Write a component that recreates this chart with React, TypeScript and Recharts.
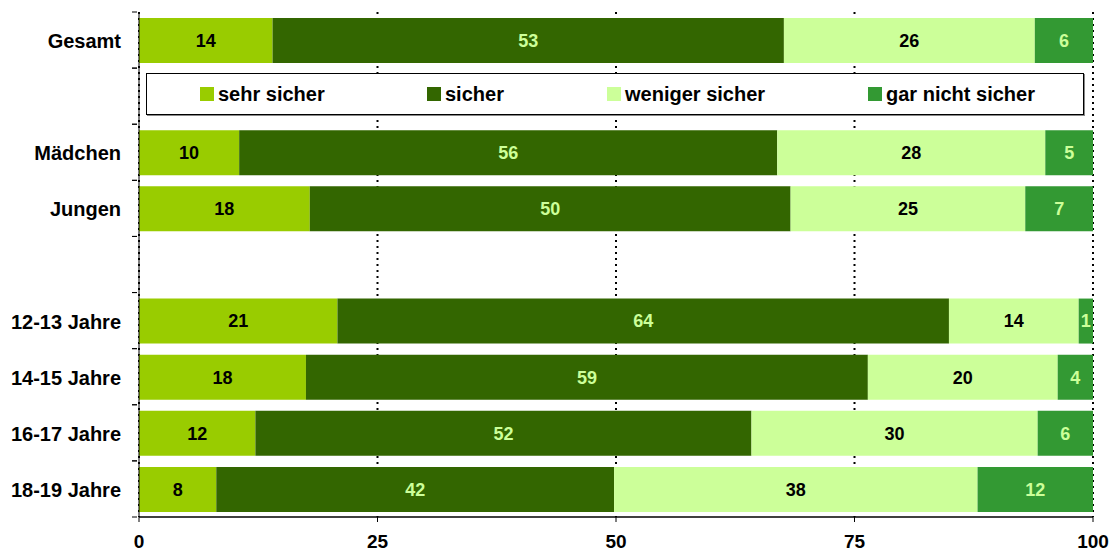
import React from "react";
import { BarChart, Bar, XAxis, YAxis, CartesianGrid, LabelList } from "recharts";

const categories = ["Gesamt", "", "Mädchen", "Jungen", "", "12-13 Jahre", "14-15 Jahre", "16-17 Jahre", "18-19 Jahre"];
const sehrSicher = [14.0, null, 10.5, 17.9, null, 20.8, 17.5, 12.2, 8.1];
const sicher = [53.6, null, 56.4, 50.4, null, 64.1, 58.9, 52.0, 41.7];
const wenigerSicher = [26.3, null, 28.1, 24.6, null, 13.6, 19.9, 30.0, 38.1];
const garNichtSicher = [6.1, null, 5.0, 7.1, null, 1.5, 3.7, 5.8, 12.1];
const sehrSicherLabels = ["14", "", "10", "18", "", "21", "18", "12", "8"];
const sicherLabels = ["53", "", "56", "50", "", "64", "59", "52", "42"];
const wenigerSicherLabels = ["26", "", "28", "25", "", "14", "20", "30", "38"];
const garNichtSicherLabels = ["6", "", "5", "7", "", "1", "4", "6", "12"];
const xTicks = [0, 25, 50, 75, 100];

const seriesNames = ["sehr sicher", "sicher", "weniger sicher", "gar nicht sicher"];
const colors = ["#99CC00", "#336600", "#CCFF99", "#339933"];
const labelColors = ["#000000", "#CCFF99", "#000000", "#CCFF99"];

const FONT = '"Liberation Sans", Arial, sans-serif';

const data = categories.map((c, i) => ({
  key: `k${i}`,
  name: c,
  s0: sehrSicher[i],
  s1: sicher[i],
  s2: wenigerSicher[i],
  s3: garNichtSicher[i],
  l0: sehrSicherLabels[i],
  l1: sicherLabels[i],
  l2: wenigerSicherLabels[i],
  l3: garNichtSicherLabels[i],
}));

const YTick = (props: any) => {
  const { x, y, payload, index } = props;
  const off = payload && payload.offset ? payload.offset : 0;
  const label = categories[index] || "";
  return (
    <g>
      <line x1={x + 1} x2={x + 6} y1={y - off} y2={y - off} stroke="#000" strokeWidth={1} />
      <line x1={x + 1} x2={x + 6} y1={y + off} y2={y + off} stroke="#000" strokeWidth={1} />
      {label ? (
        <text x={x - 10} y={y + 1} dy="0.355em" textAnchor="end" fontFamily={FONT} fontWeight="bold" fontSize={20} fill="#000">
          {label}
        </text>
      ) : null}
    </g>
  );
};

const makeLabel = (color: string) => (props: any) => {
  const { x, y, width, height, value } = props;
  if (value === null || value === undefined || value === "") return null;
  return (
    <text
      x={x + width / 2}
      y={y + height / 2}
      dy="0.355em"
      textAnchor="middle"
      fontFamily={FONT}
      fontWeight="bold"
      fontSize={18}
      fill={color}
    >
      {value}
    </text>
  );
};

const legendLefts = [53, 280, 460, 721];

const LegendBox = () => (
  <div
    style={{
      position: "absolute",
      left: 146,
      top: 73,
      width: 938,
      height: 42,
      background: "#fff",
      border: "1px solid #000",
      boxShadow: "1px 1px 0 #888",
      boxSizing: "border-box",
      fontFamily: FONT,
      fontWeight: "bold",
      fontSize: 20,
    }}
  >
    {seriesNames.map((n, i) => (
      <div
        key={n}
        style={{ position: "absolute", left: legendLefts[i], top: 0, height: 40, display: "flex", alignItems: "center", whiteSpace: "nowrap" }}
      >
        <span style={{ display: "inline-block", width: 14, height: 14, background: colors[i], marginRight: 4 }} />
        <span style={{ color: "#000" }}>{n}</span>
      </div>
    ))}
  </div>
);

export default function App() {
  return (
    <div style={{ position: "fixed", left: 0, top: 0, width: 1109, height: 551, background: "#fff" }}>
      <BarChart
        width={1109}
        height={551}
        data={data}
        layout="vertical"
        margin={{ top: 12, right: 16, bottom: 0, left: 0 }}
        barSize={45}
      >
        <CartesianGrid horizontal={false} vertical={true} stroke="#000" strokeWidth={2} strokeDasharray="2 4" />
        <XAxis
          type="number"
          domain={[0, 100]}
          ticks={xTicks}
          interval={0}
          height={34}
          axisLine={{ stroke: "#000", strokeWidth: 1.5 }}
          tickLine={{ stroke: "#000" }}
          tickSize={5}
          tickMargin={13}
          tick={{ fontFamily: FONT, fontWeight: "bold", fontSize: 19, fill: "#000" }}
        />
        <YAxis
          type="category"
          dataKey="key"
          width={139}
          axisLine={{ stroke: "#000", strokeWidth: 1 }}
          tickLine={false}
          tick={<YTick />}
          interval={0}
        />
        {["s0", "s1", "s2", "s3"].map((k, i) => (
          <Bar key={k} dataKey={k} stackId="a" fill={colors[i]} name={seriesNames[i]} isAnimationActive={false}>
            <LabelList dataKey={`l${i}`} content={makeLabel(labelColors[i])} />
          </Bar>
        ))}
      </BarChart>
      <LegendBox />
    </div>
  );
}
